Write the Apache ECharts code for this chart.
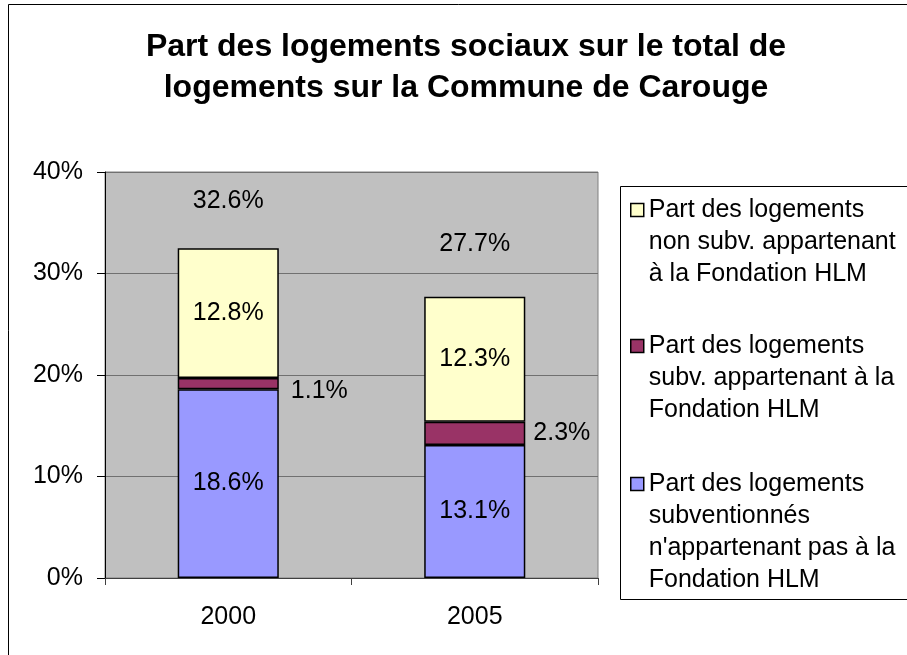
<!DOCTYPE html>
<html>
<head>
<meta charset="utf-8">
<script src="https://cdn.jsdelivr.net/npm/echarts@6/dist/echarts.min.js"></script>
<style>
  html, body { margin: 0; padding: 0; background: #fff; }
  #chart { width: 907px; height: 655px; }
</style>
</head>
<body>
<div id="chart"></div>
<script>
// categories and values (in %)
var years = ['2000', '2005'];
var subvNonHLM = [18.6, 13.1];
var subvHLM = [1.1, 2.3];
var nonSubvHLM = [12.8, 12.3];
var totals = [32.6, 27.7];

var nameNonSubv = 'Part des logements\nnon subv. appartenant\nà la Fondation HLM';
var nameSubvHLM = 'Part des logements\nsubv. appartenant à la\nFondation HLM';
var nameSubvNon = 'Part des logements\nsubventionnés\nn\'appartenant pas à la\nFondation HLM';

var FONT = 'Liberation Sans, Arial, sans-serif';
var LH = 32;

// one legend per item; an empty first line pushes the text down so the
// square lines up with the first line of text (like Excel does)
function legendFor(name, lines, firstLineY) {
  var pad = LH * (lines - 1);
  return {
    data: [name],
    orient: 'vertical',
    left: 630,
    top: firstLineY - pad - LH / 2,
    padding: 0,
    icon: 'rect',
    itemWidth: 13,
    itemHeight: 13,
    itemStyle: { borderColor: '#000', borderWidth: 1.5 },
    formatter: function (n) { return '{pad| }\n' + n; },
    textStyle: {
      fontFamily: FONT, fontSize: 25, color: '#000', lineHeight: LH,
      rich: { pad: { lineHeight: pad, height: pad, fontSize: 10 } }
    }
  };
}

var myChart = echarts.init(document.getElementById('chart'));

var barBorder = { borderColor: '#000', borderWidth: 1.5 };
var inLabel = { show: true, position: 'inside', fontFamily: FONT, fontSize: 25, color: '#000', formatter: '{c}%' };

option = {
  animation: false,
  backgroundColor: '#fff',
  title: {
    text: 'Part des logements sociaux sur le total de\nlogements sur la Commune de Carouge',
    left: 466,
    top: 27,
    textAlign: 'center',
    padding: 0,
    textStyle: { fontFamily: FONT, fontSize: 32, fontWeight: 'bold', color: '#000', lineHeight: 41 }
  },
  graphic: [
    { type: 'rect', z: -10, shape: { x: 8.5, y: 4.5, width: 1000, height: 1000 },
      style: { fill: 'none', stroke: '#000', lineWidth: 1 } },
    { type: 'rect', z: -10, shape: { x: 620.5, y: 186.5, width: 400, height: 413 },
      style: { fill: '#fff', stroke: '#000', lineWidth: 1 } }
  ],
  legend: [
    legendFor(nameNonSubv, 3, 210),
    legendFor(nameSubvHLM, 3, 346),
    legendFor(nameSubvNon, 4, 484)
  ],
  grid: {
    left: 105, right: 309, top: 172, bottom: 77,
    show: true, backgroundColor: '#C0C0C0', borderColor: '#808080', borderWidth: 1
  },
  xAxis: {
    type: 'category',
    data: years,
    axisLine: { lineStyle: { color: '#404040', width: 1 } },
    axisTick: { show: true, length: 7, lineStyle: { color: '#404040' } },
    axisLabel: { fontFamily: FONT, fontSize: 25, color: '#000', margin: 27 }
  },
  yAxis: {
    type: 'value',
    min: 0, max: 40, interval: 10,
    axisLine: { show: true, lineStyle: { color: '#000', width: 1 } },
    axisTick: { show: true, length: 8, lineStyle: { color: '#000' } },
    splitLine: { lineStyle: { color: '#707070', width: 1 } },
    axisLabel: { fontFamily: FONT, fontSize: 25, color: '#000', margin: 22, formatter: '{value}%' }
  },
  series: [
    {
      name: nameSubvNon, type: 'bar', stack: 'a', barWidth: '41%',
      data: subvNonHLM,
      itemStyle: Object.assign({ color: '#9999FF' }, barBorder),
      label: inLabel
    },
    {
      name: nameSubvHLM, type: 'bar', stack: 'a',
      data: subvHLM.map(function (v, i) {
        return { value: v, label: i === 0 ? { distance: 12, offset: [0, 7] } : { distance: 8 } };
      }),
      itemStyle: Object.assign({ color: '#993366' }, barBorder),
      label: { show: true, position: 'right', fontFamily: FONT, fontSize: 25, color: '#000', formatter: '{c}%' }
    },
    {
      name: nameNonSubv, type: 'bar', stack: 'a',
      data: nonSubvHLM,
      itemStyle: Object.assign({ color: '#FFFFCC' }, barBorder),
      label: inLabel
    },
    {
      name: 'Total', type: 'bar', barGap: '-100%', barWidth: '41%',
      data: totals.map(function (v, i) {
        return { value: v, label: { distance: i === 0 ? 34 : 40 } };
      }),
      itemStyle: { color: 'rgba(0,0,0,0)' },
      silent: true,
      z: 1,
      label: { show: true, position: 'top', fontFamily: FONT, fontSize: 25, color: '#000', formatter: '{c}%' }
    }
  ]
};

myChart.setOption(option);
</script>
</body>
</html>
